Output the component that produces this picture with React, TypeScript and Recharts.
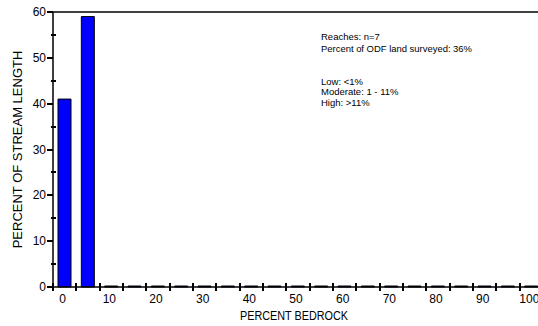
import React from 'react';
import { BarChart, Bar, XAxis, YAxis, ReferenceLine } from 'recharts';

const categories = [0, 5, 10, 15, 20, 25, 30, 35, 40, 45, 50, 55, 60, 65, 70, 75, 80, 85, 90, 95, 100];
const percentOfStreamLength = [41, 59, 0, 0, 0, 0, 0, 0, 0, 0, 0, 0, 0, 0, 0, 0, 0, 0, 0, 0, 0];
const yTicks = [0, 5, 10, 15, 20, 25, 30, 35, 40, 45, 50, 55, 60];
const yLabeledTicks = [0, 10, 20, 30, 40, 50, 60];
const xLabeledTicks = [0, 10, 20, 30, 40, 50, 60, 70, 80, 90, 100];
const summaryLines = ['Reaches:  n=7', 'Percent of ODF land surveyed: 36%'];
const classLines = ['Low: <1%', 'Moderate: 1 - 11%', 'High: >11%'];

const data = categories.map((c, i) => ({ cat: c, value: percentOfStreamLength[i] }));

const FONT = '"Liberation Sans", Arial, sans-serif';
const CHART_W = 560;
const CHART_H = 326;
const MARGIN = { top: 12, right: 17, bottom: 0, left: 0 };
const Y_AXIS_W = 53;
const X_AXIS_H = 39;
const PLOT_W = CHART_W - MARGIN.left - MARGIN.right - Y_AXIS_W;
const BAND = PLOT_W / categories.length;

const renderXTick = (props: any) => {
  const xx = Number(props.x);
  const yy = Number(props.y);
  const value = Number(props.payload.value);
  const bx = Math.round(xx - BAND / 2);
  const ay = Math.round(yy);
  const showLabel = xLabeledTicks.includes(value);
  return (
    <g>
      <rect x={bx - 1} y={ay - 4} width={2} height={8} fill="#000" />
      {showLabel && (
        <text x={xx - 2} y={yy + 16} textAnchor="middle" fontSize={12} fontFamily={FONT} fill="#000">
          {value}
        </text>
      )}
    </g>
  );
};

const renderYTick = (props: any) => {
  const xx = Math.round(Number(props.x));
  const yy = Number(props.y);
  const ry = Math.round(yy);
  const value = Number(props.payload.value);
  const major = yLabeledTicks.includes(value);
  return (
    <g>
      <rect x={major ? xx - 6 : xx - 2} y={ry - 1} width={major ? 6 : 5} height={2} fill="#000" />
      {major && (
        <text x={xx - 7} y={yy + 4} textAnchor="end" fontSize={12} fontFamily={FONT} fill="#000">
          {value}
        </text>
      )}
    </g>
  );
};

const renderAnnotations = () => (
  <g>
    {summaryLines.map((t, i) => (
      <text
        key={t}
        x={321}
        y={40 + i * 11.5}
        fontSize={9.5}
        fontFamily={FONT}
        fill="#000"
        {...(i === 1 ? { textLength: 151, lengthAdjust: 'spacingAndGlyphs' } : {})}
      >
        {t}
      </text>
    ))}
    {classLines.map((t, i) => (
      <text key={t} x={321} y={85 + i * 10.4} fontSize={9.5} fontFamily={FONT} fill="#000">
        {t}
      </text>
    ))}
  </g>
);

export default function App() {
  return (
    <div style={{ position: 'absolute', left: 0, top: 0, width: 538, height: 326, overflow: 'hidden', background: '#fff' }}>
      <BarChart width={CHART_W} height={CHART_H} data={data} margin={MARGIN} barSize={13}>
        <XAxis
          dataKey="cat"
          interval={0}
          height={X_AXIS_H}
          tickSize={0}
          tickMargin={0}
          tickLine={false}
          tick={renderXTick}
          axisLine={{ stroke: '#000', strokeWidth: 1.5 }}
          label={{
            content: (p: any) => {
              const vb = p.viewBox;
              return (
                <text
                  x={vb.x + vb.width / 2 - 4}
                  y={vb.y + 33}
                  textAnchor="middle"
                  fontSize={12}
                  fontFamily={FONT}
                  fill="#000"
                  textLength={108}
                  lengthAdjust="spacingAndGlyphs"
                >
                  PERCENT BEDROCK
                </text>
              );
            },
          }}
        />
        <YAxis
          domain={[0, 60]}
          ticks={yTicks}
          interval={0}
          width={Y_AXIS_W}
          tickSize={0}
          tickMargin={0}
          tickLine={false}
          tick={renderYTick}
          axisLine={{ stroke: '#000', strokeWidth: 1.5 }}
          label={{
            content: (p: any) => {
              const vb = p.viewBox;
              const cy = vb.y + vb.height / 2;
              return (
                <text
                  x={17}
                  y={cy}
                  transform={`rotate(-90, 17, ${cy})`}
                  textAnchor="middle"
                  dominantBaseline="central"
                  fontSize={13}
                  fontFamily={FONT}
                  fill="#000"
                >
                  PERCENT OF STREAM LENGTH
                </text>
              );
            },
          }}
        />
        <ReferenceLine y={60} stroke="#000" strokeWidth={1.5} label={{ content: renderAnnotations }} />
        <Bar dataKey="value" fill="#0000FF" stroke="#000" strokeWidth={1} minPointSize={1} isAnimationActive={false} />
      </BarChart>
    </div>
  );
}
